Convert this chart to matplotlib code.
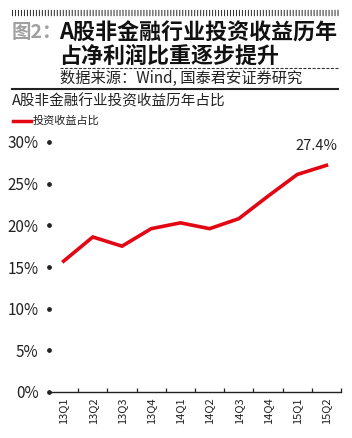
import matplotlib
matplotlib.use("Agg")
from matplotlib import pyplot as plt
from matplotlib.lines import Line2D

plt.rcParams['font.family'] = ['Noto Sans CJK SC', 'DejaVu Sans']
plt.rcParams['lines.scale_dashes'] = False

quarters = ['13Q1', '13Q2', '13Q3', '13Q4', '14Q1', '14Q2', '14Q3', '14Q4', '15Q1', '15Q2']
share = [15.7, 18.6, 17.5, 19.6, 20.3, 19.6, 20.8, 23.5, 26.1, 27.2]
y_ticks = [0, 5, 10, 15, 20, 25, 30]
y_labels = ['0%', '5%', '10%', '15%', '20%', '25%', '30%']
last_label = '27.4%'

W, H = 352, 438
fig = plt.figure(figsize=(W / 100, H / 100), dpi=100)

def fx(px):
    return px / W

def fy(py):
    return 1 - py / H

# header decoration
fig.add_artist(Line2D([fx(12), fx(340)], [fy(13), fy(13)], color='#333333', lw=4.5,
                      dashes=(0.75, 1.4)))
fig.text(fx(12), fy(33), '图2：', fontsize=14, fontweight='bold', color='#a0a0a0', va='center')
fig.text(fx(59), fy(33), 'A股非金融行业投资收益历年', fontsize=15.8, fontweight='bold',
         color='#111111', va='center')
fig.text(fx(59), fy(56), '占净利润比重逐步提升', fontsize=15.8, fontweight='bold',
         color='#111111', va='center')
fig.add_artist(Line2D([fx(60), fx(338)], [fy(68), fy(68)], color='#333333', lw=0.8,
                      dashes=(2.2, 1.1)))
fig.text(fx(60), fy(78), '数据来源：Wind, 国泰君安证券研究', fontsize=11, color='#222222',
         va='center')
fig.add_artist(Line2D([fx(12), fx(338)], [fy(89), fy(89)], color='#222222', lw=1.5))
fig.text(fx(12), fy(101), 'A股非金融行业投资收益历年占比', fontsize=10.5, color='#222222',
         va='center')

# legend
fig.add_artist(Line2D([fx(13), fx(31)], [fy(121), fy(121)], color='#e30613', lw=2.5))
fig.text(fx(33), fy(120.5), '投资收益占比', fontsize=8, color='#222222', va='center')

ax = fig.add_axes([fx(49), fy(392), fx(341) - fx(49), (392 - 142) / H])
x = list(range(len(quarters)))
ax.plot(x, share, color='#e30613', lw=2.6, solid_joinstyle='miter')
ax.annotate(last_label, (x[-1], share[-1]), xytext=(-7, 9), textcoords='offset points',
            ha='center', va='bottom', fontsize=10.5, color='#222222')

ax.set_xlim(-0.5, len(quarters) - 0.5)
ax.set_ylim(0, 30)
for s in ['left', 'top', 'right']:
    ax.spines[s].set_visible(False)
ax.spines['bottom'].set_linewidth(1.0)
ax.spines['bottom'].set_color('#222222')

ax.set_xticks([i + 0.5 for i in x])
ax.set_xticklabels([])
ax.tick_params(axis='x', which='major', direction='in', length=3, width=0.9, color='#222222')
ax.set_xticks(x, minor=True)
ax.set_xticklabels(quarters, minor=True, rotation=90, fontsize=8, color='#222222')
ax.tick_params(axis='x', which='minor', length=0, pad=4)

ax.set_yticks(y_ticks)
ax.set_yticklabels(y_labels, fontsize=11, color='#222222')
ax.tick_params(axis='y', length=2.6, pad=5, color='#222222')
for t in ax.yaxis.get_major_ticks():
    t.tick1line.set_marker('o')
    t.tick1line.set_markersize(2.6)

fig.savefig('out.png', dpi=100)
